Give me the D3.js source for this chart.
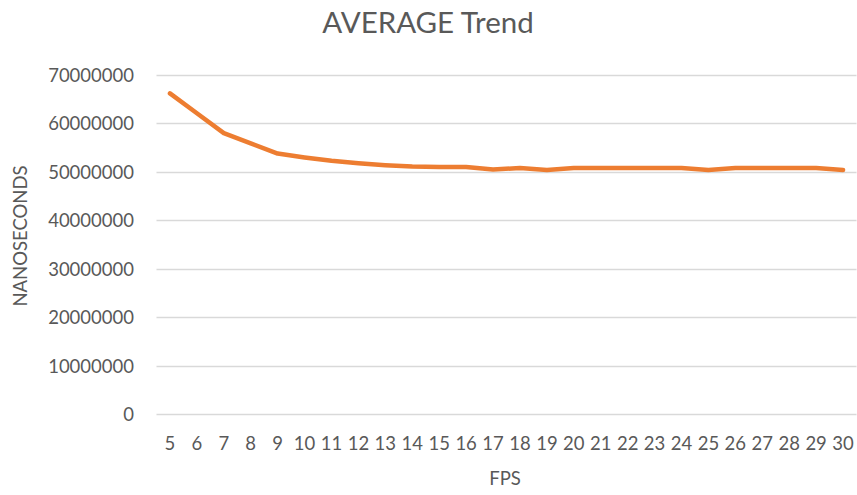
<!DOCTYPE html>
<html>
<head>
<meta charset="utf-8">
<script src="https://cdn.jsdelivr.net/npm/d3@7"></script>
<style>
  html, body { margin: 0; padding: 0; background: #fff; }
  svg { display: block; }
  text { font-family: Lato, "Open Sans", sans-serif; fill: #595959; }
</style>
</head>
<body>
<script>
const fps = ["5","6","7","8","9","10","11","12","13","14","15","16","17","18","19","20","21","22","23","24","25","26","27","28","29","30"];
const average = [66200000, 62100000, 58000000, 55900000, 53800000, 53000000, 52300000, 51800000, 51400000, 51100000, 51000000, 51000000, 50500000, 50800000, 50400000, 50800000, 50800000, 50800000, 50800000, 50800000, 50400000, 50800000, 50800000, 50800000, 50800000, 50400000];
const yTicks = [0, 10000000, 20000000, 30000000, 40000000, 50000000, 60000000, 70000000];
const title = "AVERAGE Trend";
const xTitle = "FPS";
const yTitle = "NANOSECONDS";

const W = 857, H = 495;
const margin = {left: 156.5, right: 0.5, top: 75, bottom: 80.7};

const svg = d3.select("body").append("svg").attr("width", W).attr("height", H);

const x = d3.scaleBand().domain(fps).range([margin.left, W - margin.right]);
const y = d3.scaleLinear().domain([0, 70000000]).range([H - margin.bottom, margin.top]);

// gridlines
svg.append("g").selectAll("line").data(yTicks).join("line")
  .attr("x1", margin.left).attr("x2", W - margin.right)
  .attr("y1", d => Math.round(y(d)) + 0.5).attr("y2", d => Math.round(y(d)) + 0.5)
  .attr("stroke", "#d9d9d9").attr("stroke-width", 1.5);

// y axis labels
const yAxis = d3.axisLeft(y).tickValues(yTicks).tickFormat(d3.format("d")).tickSize(0).tickPadding(0);
const gy = svg.append("g").attr("transform", `translate(${134},0)`).call(yAxis);
gy.select(".domain").remove();
gy.selectAll("text").style("font-size", "18.5px").attr("fill", "#595959").attr("dy", "0.35em");

// x axis labels
const xAxis = d3.axisBottom(x).tickSize(0).tickPadding(0);
const gx = svg.append("g").attr("transform", `translate(0,${437})`).call(xAxis);
gx.select(".domain").remove();
gx.selectAll("text").style("font-size", "18.5px").attr("fill", "#595959").attr("dy", "0.71em");

// line
const line = d3.line()
  .x((d, i) => x(fps[i]) + x.bandwidth() / 2)
  .y(d => y(d));
svg.append("path").datum(average)
  .attr("d", line)
  .attr("fill", "none")
  .attr("stroke", "#ED7D31")
  .attr("stroke-width", 4.5)
  .attr("stroke-linejoin", "round")
  .attr("stroke-linecap", "round");

// titles
svg.append("text").attr("x", 428).attr("y", 33).attr("text-anchor", "middle")
  .style("font-size", "29.5px").text(title);
svg.append("text").attr("x", 505).attr("y", 485).attr("text-anchor", "middle")
  .style("font-size", "18.5px").text(xTitle);
svg.append("text").attr("transform", `translate(27,236) rotate(-90)`).attr("text-anchor", "middle")
  .style("font-size", "18.5px").text(yTitle);
</script>
</body>
</html>
